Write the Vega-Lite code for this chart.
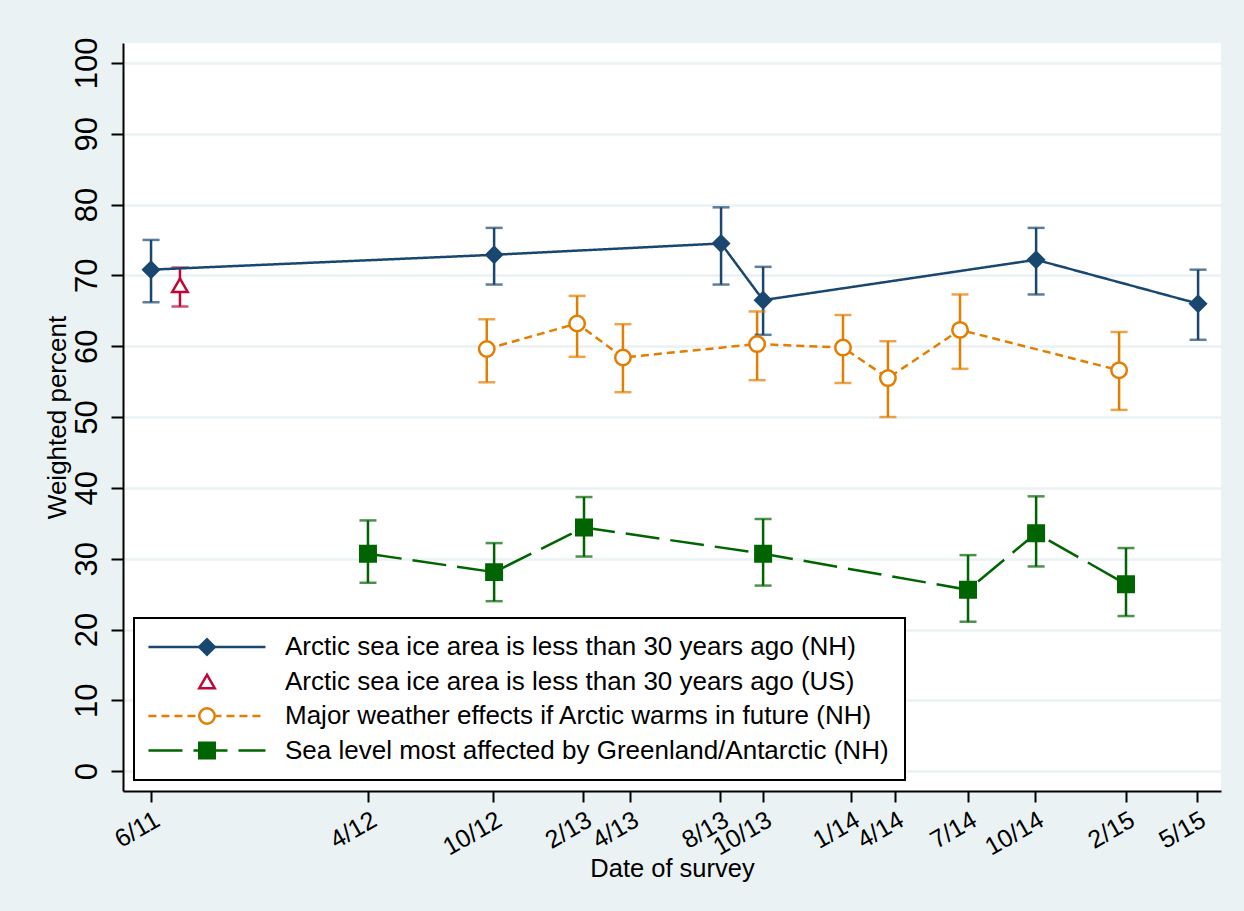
{
  "$schema": "https://vega.github.io/schema/vega-lite/v6.json",
  "autosize": "none",
  "width": 1098,
  "height": 748,
  "padding": {"left": 123, "top": 43, "right": 23, "bottom": 120},
  "background": "#eaf2f3",
  "config": {
    "font": "Liberation Sans",
    "view": {"fill": "white", "stroke": null}
  },
  "data": {
    "values": [
      {"series": "Arctic sea ice area is less than 30 years ago (NH)", "m": 0.5, "est": 70.8, "lo": 66.2, "hi": 75.0},
      {"series": "Arctic sea ice area is less than 30 years ago (NH)", "m": 15.92, "est": 72.9, "lo": 68.7, "hi": 76.7},
      {"series": "Arctic sea ice area is less than 30 years ago (NH)", "m": 26.12, "est": 74.5, "lo": 68.7, "hi": 79.6},
      {"series": "Arctic sea ice area is less than 30 years ago (NH)", "m": 28.01, "est": 66.5, "lo": 61.6, "hi": 71.2},
      {"series": "Arctic sea ice area is less than 30 years ago (NH)", "m": 40.28, "est": 72.2, "lo": 67.3, "hi": 76.7},
      {"series": "Arctic sea ice area is less than 30 years ago (NH)", "m": 47.56, "est": 66.0, "lo": 60.9, "hi": 70.8},
      {"series": "Arctic sea ice area is less than 30 years ago (US)", "m": 1.8, "est": 68.6, "lo": 65.6, "hi": 71.1},
      {"series": "Major weather effects if Arctic warms in future (NH)", "m": 15.59, "est": 59.6, "lo": 54.9, "hi": 63.8},
      {"series": "Major weather effects if Arctic warms in future (NH)", "m": 19.65, "est": 63.2, "lo": 58.5, "hi": 67.1},
      {"series": "Major weather effects if Arctic warms in future (NH)", "m": 21.71, "est": 58.4, "lo": 53.5, "hi": 63.1},
      {"series": "Major weather effects if Arctic warms in future (NH)", "m": 27.74, "est": 60.3, "lo": 55.2, "hi": 64.9},
      {"series": "Major weather effects if Arctic warms in future (NH)", "m": 31.6, "est": 59.8, "lo": 54.8, "hi": 64.4},
      {"series": "Major weather effects if Arctic warms in future (NH)", "m": 33.62, "est": 55.5, "lo": 50.0, "hi": 60.7},
      {"series": "Major weather effects if Arctic warms in future (NH)", "m": 36.86, "est": 62.3, "lo": 56.8, "hi": 67.3},
      {"series": "Major weather effects if Arctic warms in future (NH)", "m": 44.01, "est": 56.6, "lo": 51.0, "hi": 62.0},
      {"series": "Sea level most affected by Greenland/Antarctic (NH)", "m": 10.25, "est": 30.7, "lo": 26.6, "hi": 35.4},
      {"series": "Sea level most affected by Greenland/Antarctic (NH)", "m": 15.92, "est": 28.1, "lo": 24.0, "hi": 32.2},
      {"series": "Sea level most affected by Greenland/Antarctic (NH)", "m": 19.96, "est": 34.4, "lo": 30.3, "hi": 38.7},
      {"series": "Sea level most affected by Greenland/Antarctic (NH)", "m": 28.01, "est": 30.7, "lo": 26.2, "hi": 35.6},
      {"series": "Sea level most affected by Greenland/Antarctic (NH)", "m": 37.22, "est": 25.6, "lo": 21.1, "hi": 30.5},
      {"series": "Sea level most affected by Greenland/Antarctic (NH)", "m": 40.28, "est": 33.6, "lo": 28.9, "hi": 38.8},
      {"series": "Sea level most affected by Greenland/Antarctic (NH)", "m": 44.32, "est": 26.4, "lo": 21.9, "hi": 31.5}
    ]
  },
  "encoding": {
    "x": {
      "field": "m",
      "type": "quantitative",
      "scale": {"domain": [-0.76, 48.59], "nice": false, "zero": false},
      "axis": {
        "title": "Date of survey",
        "titleFontSize": 25.5,
        "titleFontWeight": "normal",
        "titleColor": "black",
        "titleY": 85,
        "titleBaseline": "alphabetic",
        "values": [0.5, 10.25, 15.87, 19.92, 22.03, 26.07, 28.01, 31.96, 33.94, 37.22, 40.23, 44.32, 47.51],
        "labelExpr": "({'0.5':'6/11','10.25':'4/12','15.87':'10/12','19.92':'2/13','22.03':'4/13','26.07':'8/13','28.01':'10/13','31.96':'1/14','33.94':'4/14','37.22':'7/14','40.23':'10/14','44.32':'2/15','47.51':'5/15'})[datum.value]",
        "labelAngle": -30,
        "labelAlign": "right",
        "labelBaseline": "top",
        "labelFontSize": 25,
        "labelColor": "black",
        "labelPadding": 5,
        "labelOverlap": false,
        "labelFlush": false,
        "tickSize": 11,
        "tickWidth": 2,
        "tickColor": "black",
        "domainColor": "black",
        "domainWidth": 2,
        "grid": false
      }
    }
  },
  "layer": [
    {
      "mark": {"type": "rule", "strokeWidth": 2.5},
      "encoding": {
        "y": {
          "field": "lo",
          "type": "quantitative",
          "scale": {"domain": [-2.8, 102.8], "nice": false, "zero": false},
          "axis": {
            "title": "Weighted percent",
            "titleFontSize": 26,
            "titleFontWeight": "normal",
            "titleColor": "black",
            "titleX": -58,
            "titleBaseline": "alphabetic",
            "values": [0, 10, 20, 30, 40, 50, 60, 70, 80, 90, 100],
            "labelAngle": -90,
            "labelAlign": "center",
            "labelBaseline": "alphabetic",
            "labelFontSize": 31,
            "labelColor": "black",
            "labelPadding": 15,
            "tickSize": 12,
            "tickWidth": 2,
            "tickColor": "black",
            "domainColor": "black",
            "domainWidth": 2,
            "grid": true,
            "gridColor": "#eaf2f3",
            "gridWidth": 2.5
          }
        },
        "y2": {"field": "hi"},
        "color": {"field": "series", "type": "nominal"}
      }
    },
    {
      "mark": {"type": "tick", "orient": "horizontal", "size": 17, "thickness": 2.5},
      "encoding": {
        "y": {"field": "hi", "type": "quantitative"},
        "color": {"field": "series", "type": "nominal"}
      }
    },
    {
      "mark": {"type": "tick", "orient": "horizontal", "size": 17, "thickness": 2.5},
      "encoding": {
        "y": {"field": "lo", "type": "quantitative"},
        "color": {"field": "series", "type": "nominal"}
      }
    },
    {
      "mark": {"type": "line", "strokeWidth": 2.5},
      "encoding": {
        "y": {"field": "est", "type": "quantitative"},
        "color": {
          "field": "series",
          "type": "nominal",
          "scale": {
            "domain": ["Arctic sea ice area is less than 30 years ago (NH)", "Arctic sea ice area is less than 30 years ago (US)", "Major weather effects if Arctic warms in future (NH)", "Sea level most affected by Greenland/Antarctic (NH)"],
            "range": ["#1a476f", "#c10534", "#e37e00", "#006400"]
          },
          "legend": {
            "orient": "none",
            "legendX": 11,
            "legendY": 575,
            "title": null,
            "symbolType": "M-2.91,0H20.49",
            "symbolSize": 100,
            "symbolStrokeWidth": 2.5,
            "labelFontSize": 26,
            "labelColor": "black",
            "labelOffset": 109,
            "labelLimit": 1000,
            "padding": 16,
            "rowPadding": 8.5,
            "fillColor": "white",
            "strokeColor": "black",
            "encode": {"legend": {"update": {"strokeWidth": {"value": 2}}}}
          }
        },
        "strokeDash": {
          "field": "series",
          "type": "nominal",
          "scale": {
            "domain": ["Arctic sea ice area is less than 30 years ago (NH)", "Arctic sea ice area is less than 30 years ago (US)", "Major weather effects if Arctic warms in future (NH)", "Sea level most affected by Greenland/Antarctic (NH)"],
            "range": [[1, 0], [0, 10000], [8, 5], [34, 11]]
          }
        }
      }
    },
    {
      "mark": {"type": "point", "filled": true, "size": 240, "strokeWidth": 2.5, "opacity": 1},
      "encoding": {
        "y": {"field": "est", "type": "quantitative"},
        "shape": {
          "field": "series",
          "type": "nominal",
          "scale": {"range": ["diamond", "triangle-up", "circle", "square"]},
          "legend": {
            "orient": "none", "legendX": 11, "legendY": 575, "title": null,
            "symbolSize": 240, "symbolStrokeWidth": 2.5, "symbolOffset": 44,
            "labelFontSize": 26, "labelExpr": "' '", "labelLimit": 1000, "labelOffset": 109,
            "padding": 16, "rowPadding": 8.5
          }
        },
        "fill": {
          "field": "series",
          "type": "nominal",
          "scale": {"range": ["#1a476f", "white", "white", "#006400"]},
          "legend": {
            "orient": "none", "legendX": 11, "legendY": 575, "title": null,
            "symbolSize": 240, "symbolStrokeWidth": 2.5, "symbolOffset": 44,
            "labelFontSize": 26, "labelExpr": "' '", "labelLimit": 1000, "labelOffset": 109,
            "padding": 16, "rowPadding": 8.5
          }
        },
        "stroke": {
          "field": "series",
          "type": "nominal",
          "scale": {"range": ["#1a476f", "#c10534", "#e37e00", "#006400"]},
          "legend": {
            "orient": "none", "legendX": 11, "legendY": 575, "title": null,
            "symbolSize": 240, "symbolStrokeWidth": 2.5, "symbolOffset": 44,
            "labelFontSize": 26, "labelExpr": "' '", "labelLimit": 1000, "labelOffset": 109,
            "padding": 16, "rowPadding": 8.5
          }
        }
      }
    }
  ]
}
